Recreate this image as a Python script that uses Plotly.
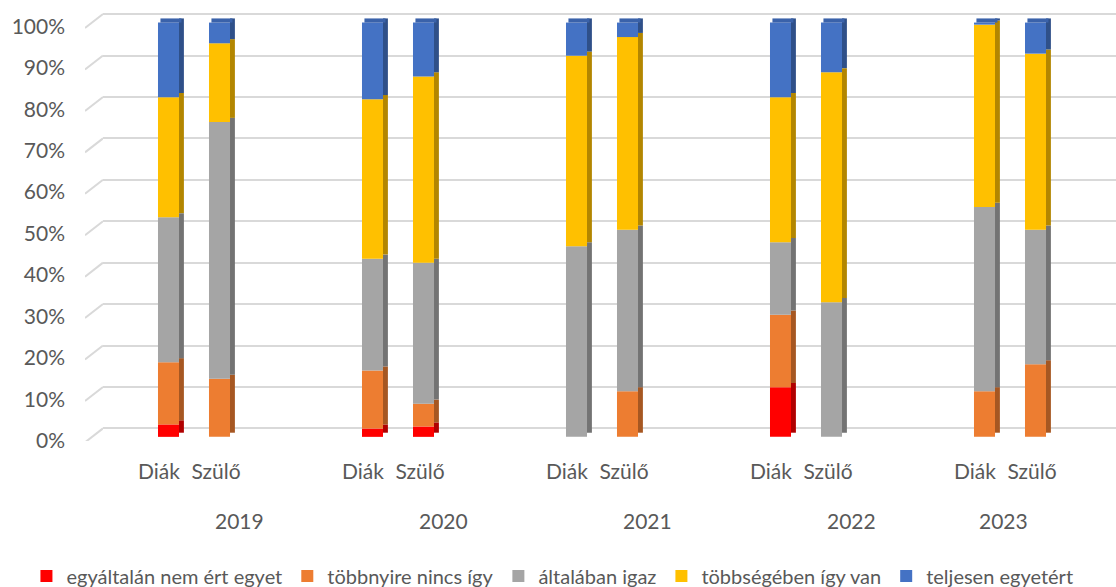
import plotly.graph_objects as go

years = ["2019", "2020", "2021", "2022", "2023"]
groups = ["Diák", "Szülő"]
series_names = ["egyáltalán nem ért egyet", "többnyire nincs így", "általában igaz",
                "többségében így van", "teljesen egyetért"]
# values per bar in order: 2019 Diák, 2019 Szülő, 2020 Diák, ...
nem_ert = [3, 0, 2, 2.5, 0, 0, 12, 0, 0, 0]
nincs_igy = [15, 14, 14, 5.5, 0, 11, 17.5, 0, 11, 17.5]
altalaban = [35, 62, 27, 34, 46, 39, 17.5, 32.5, 44.5, 32.5]
tobbseg = [29, 19, 38.5, 45, 46, 46.5, 35, 55.5, 44, 42.5]
teljesen = [18, 5, 18.5, 13, 8, 3.5, 18, 12, 0.5, 7.5]
y_ticks = [0, 10, 20, 30, 40, 50, 60, 70, 80, 90, 100]

front_colors = ["#FF0000", "#ED7D31", "#A5A5A5", "#FFC000", "#4472C4"]
side_colors = ["#B00000", "#A65722", "#737373", "#B38600", "#2F5089"]
top_color = "#3A62AA"
grid_color = "#D9D9D9"
text_color = "#595959"
font_family = "Lato, Open Sans, Arial"
fsize = 21
legend_fsize = 20

series = [nem_ert, nincs_igy, altalaban, tobbseg, teljesen]

bar_w = 0.103
side_w = 0.024
offs = [-0.125, 0.125]
label_shift = [-0.047, -0.017]
year_label_shift = [0.225, 0.225, 0.225, 0.225, -0.03]
xs, tick_xs = [], []
for i in range(len(years)):
    for o, s in zip(offs, label_shift):
        xs.append(i + o)
        tick_xs.append(i + o + s)
side_xs = [x + bar_w / 2 + side_w / 2 for x in xs]

# 3D look parameters (in axis percent units)
depth_shift = 1.0      # side face shifted up
wall_shift = 2.05      # back wall gridlines offset
diag_drop = 3.38       # left wall diagonal drop
label_drop = 0.9       # tick labels sit slightly below the value level

fig = go.Figure()

# host trace for back-wall grid subplot
fig.add_trace(go.Scatter(x=[None], y=[None], xaxis="x", yaxis="y", showlegend=False,
                         hoverinfo="skip"))

bases = [0.0] * len(xs)
for k, vals in enumerate(series):
    fig.add_trace(go.Bar(x=side_xs, y=vals, base=[b + depth_shift for b in bases], width=side_w,
                         xaxis="x2", yaxis="y2",
                         marker=dict(color=side_colors[k], line=dict(width=0)),
                         showlegend=False, hoverinfo="skip", cliponaxis=False))
    fig.add_trace(go.Bar(x=xs, y=vals, base=list(bases), width=bar_w, name=series_names[k],
                         xaxis="x2", yaxis="y2",
                         marker=dict(color=front_colors[k], line=dict(width=0)),
                         cliponaxis=False))
    bases = [b + v for b, v in zip(bases, vals)]

# top faces
fig.add_trace(go.Bar(x=[x + side_w / 2 for x in xs], y=[depth_shift] * len(xs), base=bases,
                     width=bar_w, xaxis="x2", yaxis="y2",
                     marker=dict(color=top_color, line=dict(width=0)),
                     showlegend=False, hoverinfo="skip", cliponaxis=False))

# left side-wall diagonal stubs (x3 / y3)
dx, dy = [], []
for t in y_ticks:
    dx += [0, 1, None]
    dy += [t - diag_drop, t, None]
fig.add_trace(go.Scatter(x=dx, y=dy, xaxis="x3", yaxis="y3", mode="lines",
                         line=dict(color=grid_color, width=2), showlegend=False,
                         hoverinfo="skip", cliponaxis=False))

L, W = 85, 1031
front_range = [-1, 104]
wall_range = [front_range[0] - wall_shift, front_range[1] - wall_shift]
plot_h = 587 - 6 - 146
fig.update_layout(
    barmode="overlay",
    width=1116, height=587,
    margin=dict(l=L, r=0, t=6, b=146, autoexpand=False),
    paper_bgcolor="white", plot_bgcolor="rgba(0,0,0,0)",
    font=dict(family=font_family, size=fsize, color=text_color),
    # back wall grid
    xaxis=dict(domain=[(103 - L) / W, 1], range=[0, 1], visible=False, anchor="y"),
    yaxis=dict(range=wall_range, tickvals=y_ticks, showgrid=True,
               gridcolor=grid_color, gridwidth=2, zeroline=False, showticklabels=False,
               ticks="", showline=False, anchor="x"),
    xaxis3=dict(domain=[0, (103 - L) / W], range=[0, 1], visible=False, anchor="y3"),
    yaxis3=dict(range=wall_range, visible=False, anchor="x3"),
    # bars
    xaxis2=dict(domain=[(92 - L) / W, (1112 - L) / W], range=[-0.5, len(years) - 0.5],
                anchor="y2", tickmode="array", tickvals=tick_xs,
                ticktext=[g for _ in years for g in groups], showgrid=False, zeroline=False,
                showline=False, ticks="", ticklabelstandoff=16, automargin=False,
                tickfont=dict(size=fsize, color=text_color)),
    yaxis2=dict(range=front_range, anchor="x2", tickmode="array",
                tickvals=[t - label_drop for t in y_ticks],
                ticktext=[f"{t}%" for t in y_ticks], showgrid=False, zeroline=False,
                showline=False, ticks="", automargin=False, ticklabelstandoff=26,
                tickfont=dict(size=fsize, color=text_color)),
    legend=dict(orientation="h", x=-0.0568, xanchor="left", y=(441 - 576) / plot_h,
                yanchor="middle",
                font=dict(size=legend_fsize, color=text_color), itemwidth=30,
                traceorder="normal", bgcolor="rgba(0,0,0,0)"),
    showlegend=True,
)
for i, yr in enumerate(years):
    fig.add_annotation(x=i + year_label_shift[i], y=(441 - 520) / plot_h, xref="x2",
                       yref="paper", text=yr, showarrow=False,
                       font=dict(size=fsize, color=text_color), yanchor="middle")

fig.write_html("out.html", config={"displayModeBar": False},
               post_script="document.body.style.margin='0';")
